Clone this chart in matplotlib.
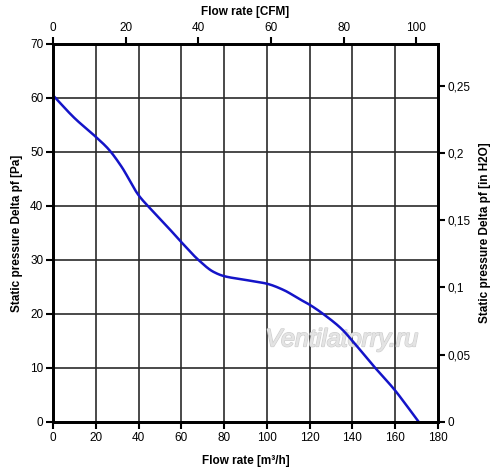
import matplotlib
matplotlib.use("Agg")
import matplotlib.pyplot as plt
import numpy as np
from matplotlib.ticker import FixedLocator, FuncFormatter
import matplotlib.patheffects as pe

plt.rcParams['font.family'] = ['Liberation Sans', 'DejaVu Sans']

flow_m3h = [0, 10, 20, 26, 32, 40, 46, 52, 60, 68, 75, 80, 90, 100, 108, 115, 120, 128, 135, 140, 150, 160, 165, 171]
pressure_pa = [60.5, 56.3, 52.8, 50.5, 47.3, 42.0, 39.3, 36.8, 33.3, 30.0, 27.8, 27.0, 26.3, 25.6, 24.4, 22.8, 21.7, 19.5, 17.2, 15.0, 10.3, 5.8, 3.2, 0.0]

x_ticks = [0, 20, 40, 60, 80, 100, 120, 140, 160, 180]
y_ticks = [0, 10, 20, 30, 40, 50, 60, 70]
cfm_ticks = [0, 20, 40, 60, 80, 100]
inh2o_ticks = [0, 0.05, 0.1, 0.15, 0.2, 0.25]
inh2o_labels = ["0", "0,05", "0,1", "0,15", "0,2", "0,25"]

M3H_PER_CFM = 1.699
PA_PER_INH2O = 249.09


def pchip(x, y, xn):
    x = np.asarray(x, float); y = np.asarray(y, float)
    h = np.diff(x); d = np.diff(y) / h
    n = len(x)
    m = np.zeros(n)
    for k in range(1, n - 1):
        if d[k - 1] * d[k] > 0:
            w1 = 2 * h[k] + h[k - 1]; w2 = h[k] + 2 * h[k - 1]
            m[k] = (w1 + w2) / (w1 / d[k - 1] + w2 / d[k])
    m[0] = d[0]; m[-1] = d[-1]
    idx = np.clip(np.searchsorted(x, xn) - 1, 0, n - 2)
    t = (xn - x[idx]) / h[idx]
    h00 = 2 * t**3 - 3 * t**2 + 1; h10 = t**3 - 2 * t**2 + t
    h01 = -2 * t**3 + 3 * t**2; h11 = t**3 - t**2
    return h00 * y[idx] + h10 * h[idx] * m[idx] + h01 * y[idx + 1] + h11 * h[idx] * m[idx + 1]


fig = plt.figure(figsize=(5.0, 4.73), dpi=100)
ax = fig.add_axes([0.106, 0.108, 0.770, 0.799])

xx = np.linspace(flow_m3h[0], flow_m3h[-1], 500)
ax.plot(xx, pchip(flow_m3h, pressure_pa, xx), color='#1414c8', lw=1.8, zorder=3)

ax.set_xlim(0, 180)
ax.set_ylim(0, 70)
ax.xaxis.set_major_locator(FixedLocator(x_ticks))
ax.yaxis.set_major_locator(FixedLocator(y_ticks))
ax.grid(True, color='#2a2a2a', lw=1.2)
ax.set_axisbelow(True)
for s in ax.spines.values():
    s.set_linewidth(1.8)
    s.set_color('black')
ax.tick_params(direction='out', length=5, width=1.5, labelsize=8.5, pad=2, colors='black')
ax.set_xlabel("Flow rate [m³/h]", fontsize=8.5, fontweight='bold', labelpad=8)
ax.set_ylabel("Static pressure Delta pf [Pa]", fontsize=8.5, fontweight='bold', labelpad=5)

axt = ax.twiny()
axt.set_xlim(0, 180 / M3H_PER_CFM)
axt.xaxis.set_major_locator(FixedLocator(cfm_ticks))
axt.tick_params(direction='out', length=5, width=1.5, labelsize=8.5, pad=2)
axt.set_xlabel("Flow rate [CFM]", fontsize=8.5, fontweight='bold', labelpad=5)
for s in axt.spines.values():
    s.set_linewidth(1.8)

axr = ax.twinx()
axr.set_ylim(0, 70 / PA_PER_INH2O)
axr.yaxis.set_major_locator(FixedLocator(inh2o_ticks))
axr.yaxis.set_major_formatter(FuncFormatter(
    lambda v, p: inh2o_labels[min(range(len(inh2o_ticks)), key=lambda i: abs(inh2o_ticks[i] - v))]))
axr.tick_params(direction='out', length=5, width=1.5, labelsize=8.5, pad=2)
axr.set_ylabel("Static pressure Delta pf [in H2O]", fontsize=8.5, fontweight='bold', labelpad=6)
for s in axr.spines.values():
    s.set_linewidth(1.8)

ax.text(135, 15.3, "Ventilatorry.ru", fontsize=18, style='italic', color='#e4e4e4',
        ha='center', va='center', zorder=2,
        path_effects=[pe.withStroke(linewidth=1.2, foreground='#cfcfcf'),
                      pe.Normal()])

fig.savefig("out.png", dpi=100)
